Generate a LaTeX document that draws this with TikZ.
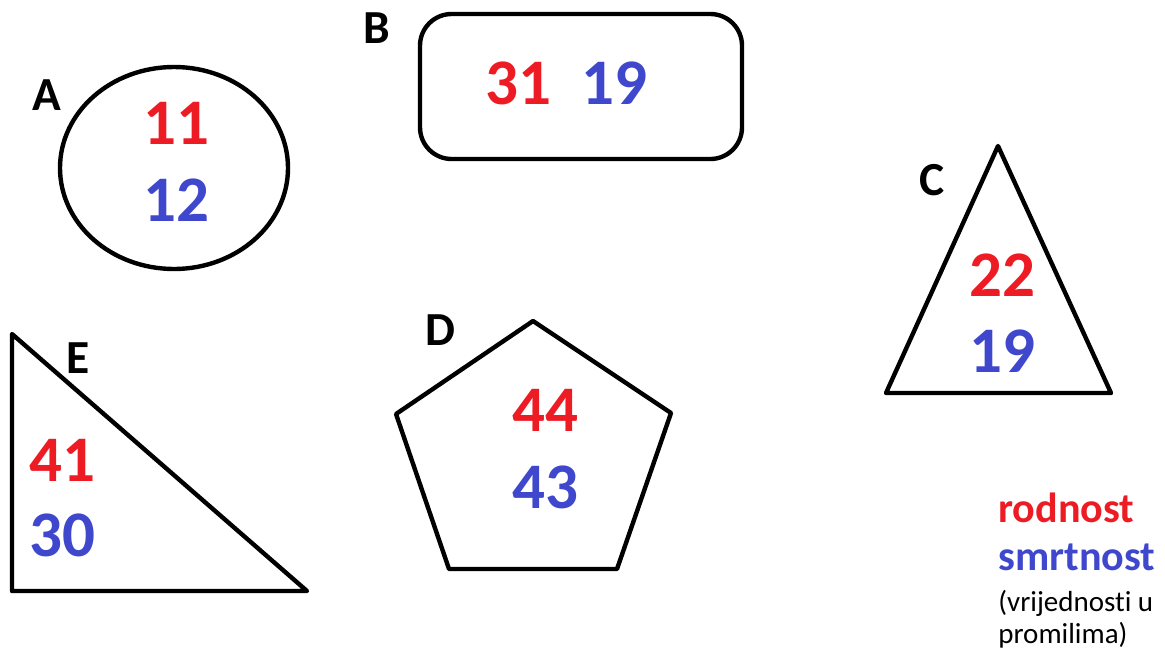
\documentclass[tikz,border=0pt]{standalone}
\usepackage{fontspec}
\setmainfont{Carlito}[Ligatures=NoCommon]
\usetikzlibrary{calc}
\definecolor{rodred}{RGB}{237,28,36}
\definecolor{smrblue}{RGB}{63,72,204}

\begin{document}
\begin{tikzpicture}[x=0.02cm, y=-0.02cm,
    shp/.style={draw=black, line width=2.5pt, line join=round},
    lbl/.style={font=\fontsize{27}{30}\selectfont\bfseries, inner sep=0pt},
    rod/.style={font=\fontsize{37}{40}\selectfont\bfseries, text=rodred, inner sep=0pt},
    smr/.style={font=\fontsize{37}{40}\selectfont\bfseries, text=smrblue, inner sep=0pt},
    leg/.style={anchor=base west, inner sep=0pt}]
    \useasboundingbox (0,0) rectangle (1165,653);
    % A
    \draw[shp] (174,168) ellipse [x radius=114, y radius=101];
    \node[lbl] (labA) at (47,95) {A};
    \node[rod] (rodA) at (176,123) {11};
    \node[smr] (smrA) at (176,200) {12};
    % B
    \draw[shp, rounded corners=18] (420,14) rectangle (742,159);
    \node[lbl] (labB) at (377,28) {B};
    \node[rod] (rodB) at (518,83) {31};
    \node[smr] (smrB) at (614,83) {19};
    % C
    \draw[shp] (998,146) -- (1111,393) -- (886,393) -- cycle;
    \node[lbl] (labC) at (932,180) {C};
    \node[rod] (rodC) at (1002,275) {22};
    \node[smr] (smrC) at (1002,351) {19};
    % D
    \draw[shp] (533,321) -- (671,413) -- (617,569) -- (449,569) -- (396,414) -- cycle;
    \node[lbl] (labD) at (440,330) {D};
    \node[rod] (rodD) at (545,410) {44};
    \node[smr] (smrD) at (545,487) {43};
    % E
    \draw[shp] (12,334) -- (307,591) -- (12,591) -- cycle;
    \node[lbl] (labE) at (78,358) {E};
    \node[rod] (rodE) at (62,460) {41};
    \node[smr] (smrE) at (62,535) {30};
    % legenda
    \node[leg, font=\fontsize{24}{26}\selectfont\bfseries, text=rodred] (legR) at (998,522) {rodnost};
    \node[leg, font=\fontsize{24}{26}\selectfont\bfseries, text=smrblue] (legS) at (998,570) {smrtnost};
    \node[leg, font=\fontsize{16.5}{20}\selectfont] (legV) at (998,611) {(vrijednosti u};
    \node[leg, font=\fontsize{16.5}{20}\selectfont] (legP) at (998,643) {promilima)};
\end{tikzpicture}
\end{document}
